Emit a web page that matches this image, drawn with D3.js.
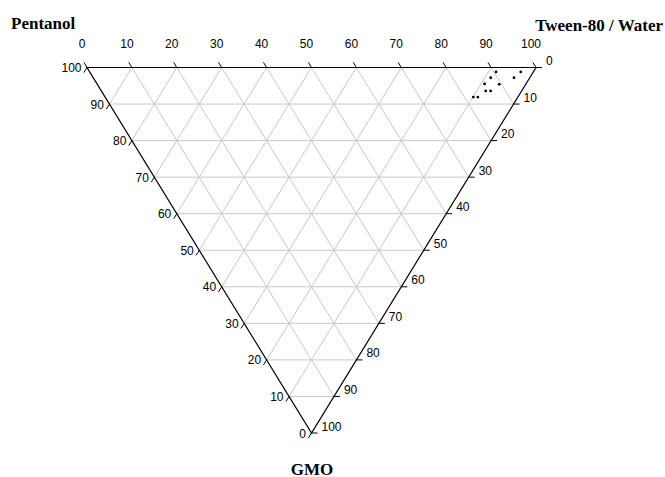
<!DOCTYPE html>
<html>
<head>
<meta charset="utf-8">
<script src="https://cdn.jsdelivr.net/npm/d3@7"></script>
<style>
  html, body { margin: 0; padding: 0; background: #fff; }
  svg { display: block; }
</style>
</head>
<body>
<svg id="chart" width="665" height="477"></svg>
<script>
// ---- data ----
const axisTitles = ["Pentanol", "Tween-80 / Water", "GMO"];
const tickValues = [0, 10, 20, 30, 40, 50, 60, 70, 80, 90, 100];
const gridValues = [10, 20, 30, 40, 50, 60, 70, 80, 90];
// sample compositions (percent)
const tween    = [90.5, 96.0, 93.7, 88.5, 89.5, 86.3, 86.7, 85.6, 83.0, 82.0];
const gmo      = [1.2, 1.2, 2.8, 2.8, 4.6, 4.5, 6.4, 6.4, 8.1, 8.1];
const pentanol = tween.map((t, i) => +(100 - t - gmo[i]).toFixed(1));

// ---- layout ----
const svg = d3.select("#chart");
const xS = d3.scaleLinear().domain([0, 100]).range([87, 536]);   // Tween along top edge
const yS = d3.scaleLinear().domain([0, 100]).range([67.5, 433]); // GMO downward
// project (tween, gmo) -> pixel
const P = (t, g) => [xS(t + g / 2), yS(g)];

const line = d3.line();
const gridG = svg.append("g").attr("fill", "none").attr("stroke", "#c8c8c8").attr("stroke-width", 1);

// constant GMO (horizontal)
gridValues.forEach(g => {
  gridG.append("path").attr("d", line([P(0, g), P(100 - g, g)]));
});
// constant Tween (parallel to left edge)
gridValues.forEach(t => {
  gridG.append("path").attr("d", line([P(t, 0), P(t, 100 - t)]));
});
// constant Pentanol (parallel to right edge)
gridValues.forEach(p => {
  gridG.append("path").attr("d", line([P(100 - p, 0), P(0, 100 - p)]));
});

// edges
const edgeG = svg.append("g").attr("fill", "none").attr("stroke", "#000").attr("stroke-width", 1.2);
edgeG.append("path").attr("d", line([P(0, 0), P(100, 0), P(0, 100), P(0, 0)]) + "Z");

// ticks
const tl = 6;
const ux = 2.245, uy = 3.655, un = Math.hypot(ux, uy);
const tickG = svg.append("g").attr("stroke", "#000").attr("stroke-width", 1);
const labG = svg.append("g").attr("font-family", "'Liberation Sans', Arial, sans-serif")
  .attr("font-size", 12).attr("fill", "#000");

tickValues.forEach(v => {
  // top axis: Tween
  let [x, y] = P(v, 0);
  tickG.append("line").attr("x1", x).attr("y1", y)
    .attr("x2", x - tl * ux / un).attr("y2", y - tl * uy / un);
  labG.append("text").attr("x", x - 5).attr("y", y - 19.5).attr("text-anchor", "middle").text(v);

  // left axis: Pentanol
  [x, y] = P(0, 100 - v);
  tickG.append("line").attr("x1", x).attr("y1", y)
    .attr("x2", x - tl * ux / un).attr("y2", y + tl * uy / un);
  labG.append("text").attr("x", x - 5.5).attr("y", y + 4.5).attr("text-anchor", "end").text(v);

  // right axis: GMO
  [x, y] = P(100 - v, v);
  tickG.append("line").attr("x1", x).attr("y1", y).attr("x2", x + tl).attr("y2", y);
  labG.append("text").attr("x", x + 10).attr("y", y - 2.5).attr("text-anchor", "start").text(v);
});

// data points
svg.append("g").selectAll("circle").data(tween).join("circle")
  .attr("cx", (t, i) => P(t, gmo[i])[0])
  .attr("cy", (t, i) => P(t, gmo[i])[1])
  .attr("r", 1.4).attr("fill", "#000");

// titles
const titleG = svg.append("g").attr("font-family", "'Liberation Serif', 'Times New Roman', serif")
  .attr("font-size", 17).attr("font-weight", "bold").attr("fill", "#000");
titleG.append("text").attr("x", 11).attr("y", 29).text(axisTitles[0]);
titleG.append("text").attr("x", 663).attr("y", 30.5).attr("text-anchor", "end").text(axisTitles[1]);
titleG.append("text").attr("x", 312).attr("y", 474.5).attr("text-anchor", "middle").text(axisTitles[2]);
</script>
</body>
</html>
